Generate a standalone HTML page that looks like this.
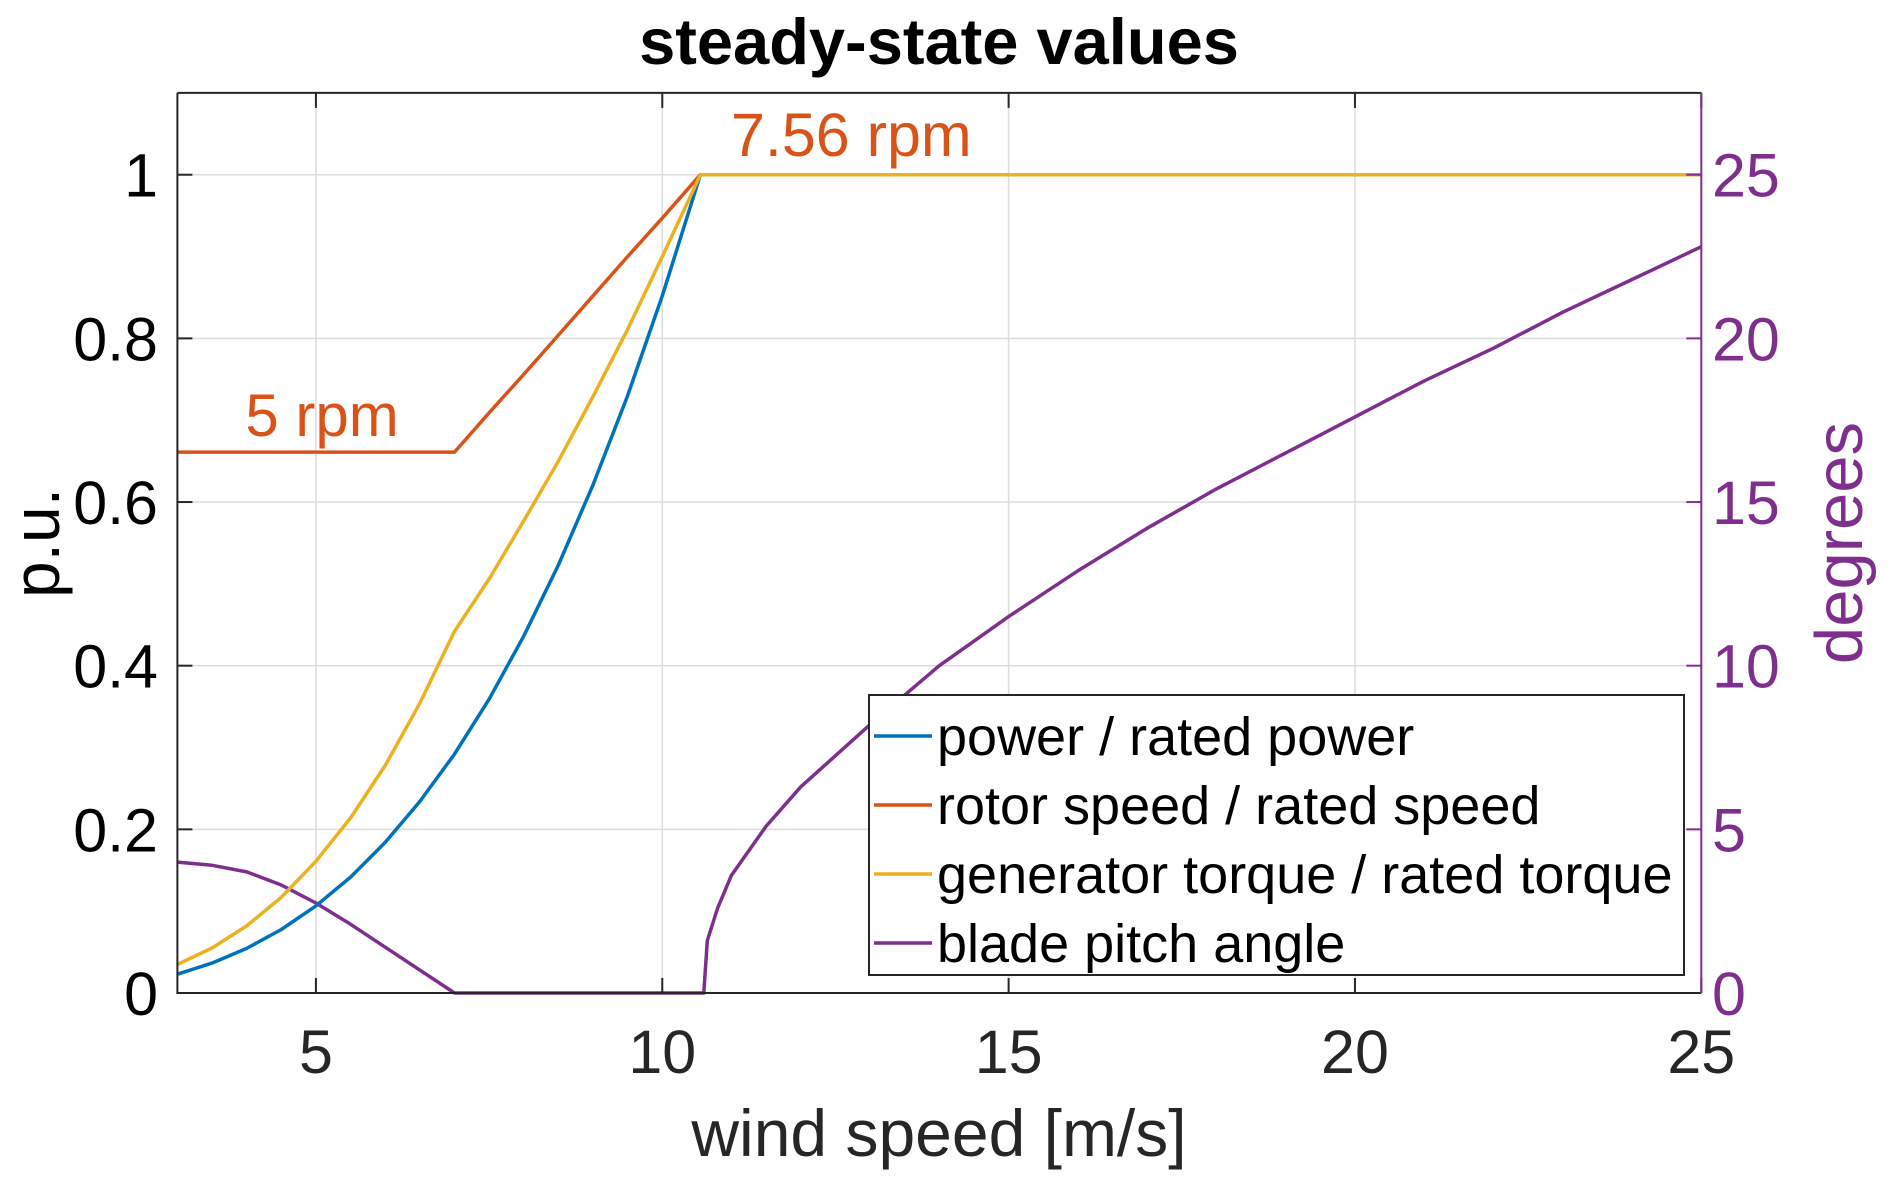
<!DOCTYPE html>
<html><head><meta charset="utf-8"><style>
html,body{margin:0;padding:0;background:#fff;}
svg{display:block;font-family:"Liberation Sans",Arial,sans-serif;}
</style></head><body>
<svg id="chart" width="1892" height="1187" viewBox="0 0 1892 1187">
<text x="939" y="64" text-anchor="middle" font-size="65" font-weight="bold" fill="#000">steady-state values</text>
<g id="grid"></g>
<g id="series"></g>
<g id="axes"></g>
<text x="322" y="436" text-anchor="middle" font-size="60" fill="#D95319">5 rpm</text>
<text x="731" y="156" font-size="61" fill="#D95319">7.56 rpm</text>
<text x="939" y="1156" text-anchor="middle" font-size="66" fill="#262626">wind speed [m/s]</text>
<text transform="translate(59,543) rotate(-90)" text-anchor="middle" font-size="66" fill="#000">p.u.</text>
<text transform="translate(1862,543) rotate(-90)" text-anchor="middle" font-size="67" fill="#7E2F8E">degrees</text>
<g id="legend"></g>
</svg>
<script>
const windSpeed = [3,3.5,4,4.5,5,5.5,6,6.5,7,7.5,8,8.5,9,9.5,10,10.55,11,12,13,14,15,16,17,18,19,20,21,22,23,24,25];
const powerPU   = [0.023,0.0365,0.0545,0.0776,0.1065,0.1417,0.184,0.234,0.292,0.359,0.436,0.523,0.621,0.730,0.852,1,1,1,1,1,1,1,1,1,1,1,1,1,1,1,1];
const speedPU   = [0.661,0.661,0.661,0.661,0.661,0.661,0.661,0.661,0.661,0.709,0.756,0.804,0.852,0.900,0.947,1,1,1,1,1,1,1,1,1,1,1,1,1,1,1,1];
const torquePU  = [0.035,0.055,0.082,0.117,0.161,0.214,0.278,0.354,0.442,0.506,0.577,0.650,0.729,0.811,0.900,1,1,1,1,1,1,1,1,1,1,1,1,1,1,1,1];
const pitchWind = [3,3.5,4,4.5,5,5.5,6,6.5,7,10.6,10.65,10.8,11,11.5,12,13,13.5,14,15,16,17,18,19,20,21,22,23,24,25];
const pitchDeg  = [4.0,3.9,3.7,3.3,2.75,2.1,1.4,0.7,0,0,1.6,2.6,3.6,5.1,6.3,8.2,9.1,10.0,11.5,12.9,14.2,15.4,16.5,17.6,18.7,19.7,20.8,21.8,22.8];
const xTicks = [5,10,15,20,25];
const yTicks = [0,0.2,0.4,0.6,0.8,1];
const yTickLabels = ["0","0.2","0.4","0.6","0.8","1"];
const rTicks = [0,5,10,15,20,25];
const legendLabels = ["power / rated power","rotor speed / rated speed","generator torque / rated torque","blade pitch angle"];
const seriesColors = ["#0072BD","#D95319","#EDB120","#7E2F8E"];

const L=177.4,R=1701.3,T=92.9,B=993;
const xs=v=>L+(v-3)/22*(R-L);
const ys=v=>B-v/1.1*(B-T);
const yr=d=>ys(d/25);
const NS="http://www.w3.org/2000/svg";
function mk(tag,attrs,parent){const e=document.createElementNS(NS,tag);for(const k in attrs)e.setAttribute(k,attrs[k]);parent.appendChild(e);return e;}
const grid=document.getElementById('grid'),axes=document.getElementById('axes'),ser=document.getElementById('series'),leg=document.getElementById('legend');

xTicks.forEach(t=>{
  const g=mk('line',{x1:xs(t),x2:xs(t),y1:T,y2:B,stroke:'#dcdcdc','stroke-width':1.5},grid);
  
  
  const a=mk('line',{x1:xs(t),x2:xs(t),y1:B,y2:B-15,stroke:'#262626','stroke-width':2},axes);
  
  
  const b=mk('line',{x1:xs(t),x2:xs(t),y1:T,y2:T+15,stroke:'#262626','stroke-width':2},axes);
  
  
  const tx=mk('text',{x:xs(t),y:1073,'text-anchor':'middle','font-size':61,fill:'#262626'},axes);
  tx.textContent=t;
  
  
});
yTicks.forEach((t,i)=>{
  const g=mk('line',{x1:L,x2:R,y1:ys(t),y2:ys(t),stroke:'#dcdcdc','stroke-width':1.5},grid);
  
  
  const a=mk('line',{x1:L,x2:L+15,y1:ys(t),y2:ys(t),stroke:'#262626','stroke-width':2},axes);
  
  
  const tx=mk('text',{x:158,y:ys(t)+22,'text-anchor':'end','font-size':61,fill:'#000'},axes);
  tx.textContent=yTickLabels[i];
  
  
});
rTicks.forEach(t=>{
  const a=mk('line',{x1:R,x2:R-15,y1:yr(t),y2:yr(t),stroke:'#7E2F8E','stroke-width':2},axes);
  
  
  const tx=mk('text',{x:1712,y:yr(t)+22,'font-size':61,fill:'#7E2F8E'},axes);
  tx.textContent=t;
  
  
});
const ax1=mk('path',{d:`M${L},${T}V${B}H${R}M${L},${T}H${R}`,stroke:'#262626','stroke-width':2,fill:'none'},axes);


const ax2=mk('line',{x1:R,x2:R,y1:T,y2:B,stroke:'#7E2F8E','stroke-width':2},axes);



function line(xv,yv,fy,color,name){
  const d=xv.map((x,i)=>(i?'L':'M')+xs(x).toFixed(1)+','+fy(yv[i]).toFixed(1)).join('');
  const p=mk('path',{d:d,stroke:color,'stroke-width':3.5,fill:'none','stroke-linejoin':'round'},ser);
  
  
}
line(pitchWind,pitchDeg,yr,seriesColors[3],'pitch-line');
line(windSpeed,powerPU,ys,seriesColors[0],'power-line');
line(windSpeed,speedPU,ys,seriesColors[1],'rotor-speed-line');
line(windSpeed,torquePU,ys,seriesColors[2],'torque-line');

const box=mk('rect',{x:869,y:695,width:815,height:280,fill:'#fff',stroke:'#262626','stroke-width':2},leg);


legendLabels.forEach((lab,i)=>{
  const y=736+i*69;
  const l=mk('line',{x1:874,x2:932,y1:y,y2:y,stroke:seriesColors[i],'stroke-width':3.5},leg);
  
  
  const t=mk('text',{x:937,y:y+19,'font-size':54,fill:'#000'},leg);
  t.textContent=lab;
  
  
});
</script>
</body></html>
